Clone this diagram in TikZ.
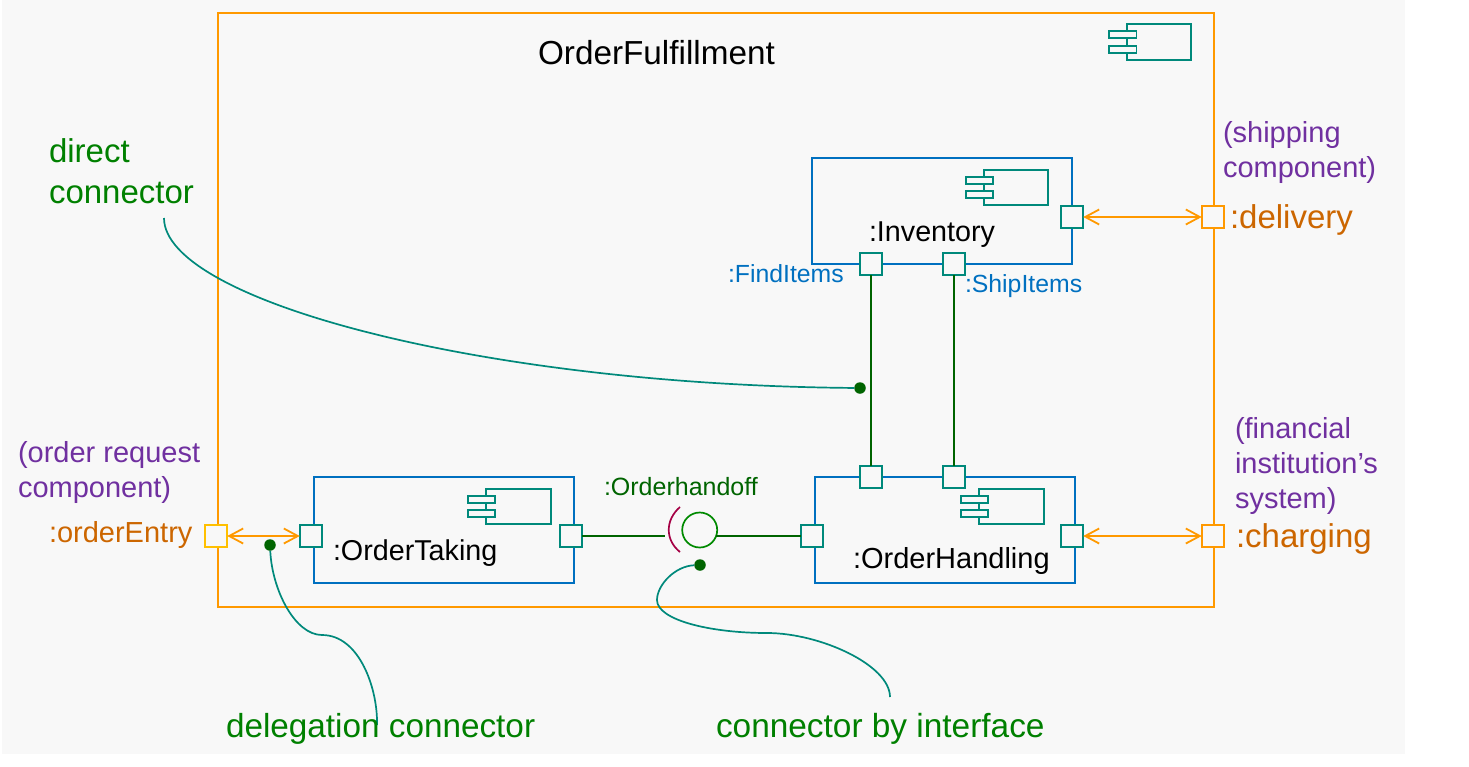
\documentclass[tikz,border=0pt]{standalone}
\usepackage{fontspec}
\setmainfont{Liberation Sans}
\usetikzlibrary{arrows.meta}
\definecolor{cbg}{HTML}{F8F8F8}
\definecolor{cframe}{HTML}{FF9900}
\definecolor{cbox}{HTML}{0070C0}
\definecolor{cteal}{HTML}{00897B}
\definecolor{cgreen}{HTML}{008000}
\definecolor{cdark}{HTML}{006400}
\definecolor{cpurple}{HTML}{7030A0}
\definecolor{cochre}{HTML}{CC6600}
\definecolor{csocket}{HTML}{A50044}
\definecolor{cball}{HTML}{008A00}
\definecolor{centry}{HTML}{FFC000}
\tikzset{
	port/.style={draw=cteal,fill=cbg,line width=2pt,minimum size=22.5pt,inner sep=0pt,outer sep=0pt,shape=rectangle},
	outport/.style={port,draw=cframe},
	part/.style={draw=cbox,line width=2pt},
	icon/.style={draw=cteal,line width=1.8pt},
	wire/.style={draw=cdark,line width=2pt},
	biarrow/.style={draw=cframe,line width=1.8pt,{Straight Barb[length=14pt,width=15pt]}-{Straight Barb[length=14pt,width=15pt]}},
	callout/.style={draw=cteal,line width=1.7pt},
	dot/.style={shape=circle,fill=cdark,minimum size=11.5pt,inner sep=0pt,outer sep=0pt},
	txt/.style={anchor=base west,inner sep=0pt,outer sep=0pt,align=left},
}
\begin{document}
\begin{tikzpicture}[x=1pt,y=-1pt]
	\useasboundingbox (0,0) rectangle (1469,766);
	\fill[cbg] (2,0) rectangle (1405,754);
	%
	\draw[cframe,line width=2pt] (218,13) rectangle (1214,607);
	\draw[part] (812,158) rectangle (1072,264);
	\draw[part] (314,477) rectangle (574,583);
	\draw[part] (815,477) rectangle (1075,583);
	%
	\draw[icon] (1127,24) rectangle (1191,60);
	\draw[icon,fill=cbg] (1109,31) rectangle (1136.5,38);
	\draw[icon,fill=cbg] (1109,46) rectangle (1136.5,53);
	\draw[icon] (984,170) rectangle (1048,205);
	\draw[icon,fill=cbg] (966,177) rectangle (993,184);
	\draw[icon,fill=cbg] (966,191) rectangle (993,198);
	\draw[icon] (486,489) rectangle (551,524);
	\draw[icon,fill=cbg] (468,496) rectangle (495,503);
	\draw[icon,fill=cbg] (468,510) rectangle (495,517);
	\draw[icon] (979,489) rectangle (1044,524);
	\draw[icon,fill=cbg] (961,496) rectangle (988,503);
	\draw[icon,fill=cbg] (961,510) rectangle (988,517);
	%
	\node[port] (invRight) at (1072,217) {};
	\node[port] (invFind) at (871,264) {};
	\node[port] (invShip) at (954,264) {};
	\node[port] (takeLeft) at (311,536) {};
	\node[port] (takeRight) at (571,536) {};
	\node[port] (handleLeft) at (812,536) {};
	\node[port] (handleFind) at (871,477) {};
	\node[port] (handleShip) at (954,477) {};
	\node[port] (handleRight) at (1072,536) {};
	\node[outport] (delivery) at (1213,217) {};
	\node[outport] (charging) at (1213,536) {};
	\node[outport,draw=centry] (orderEntry) at (216,536) {};
	%
	\node[shape=circle,draw=cball,line width=1.7pt,minimum size=35pt,inner sep=0pt,outer sep=0pt] (ball) at (699.7,530) {};
	\coordinate (socketEnd) at (665,536);
	\draw[csocket,line width=1.7pt] (680,507) .. controls (665,520) and (665,540) .. (680,552);
	%
	\draw[wire] (takeRight) -- (socketEnd);
	\draw[wire] (ball.-19) -- (handleLeft.west |- ball.-19);
	\draw[wire] (invFind) -- (handleFind);
	\draw[wire] (invShip) -- (handleShip);
	\draw[biarrow] (orderEntry) -- (takeLeft);
	\draw[biarrow] (invRight) -- (delivery);
	\draw[biarrow] (handleRight) -- (charging);
	%
	\node[dot] (dotDirect) at (860,388) {};
	\node[dot] (dotDelegate) at (270,545) {};
	\node[dot] (dotIface) at (700,565) {};
	\coordinate (startDirect) at (164,218);
	\coordinate (startDelegate) at (377,725);
	\coordinate (startIface) at (890,697);
	\draw[callout] (startDirect) .. controls (164,300) and (480,385) .. (dotDirect);
	\draw[callout] (dotDelegate) .. controls (272,590) and (295,635) .. (322,635) .. controls (360,635) and (378,690) .. (startDelegate);
	\draw[callout] (dotIface) .. controls (675,566) and (657,585) .. (657,600) .. controls (657,620) and (710,633) .. (767,633) .. controls (820,633) and (890,665) .. (startIface);
	%
	\node[txt,font=\fontsize{33.3}{40}\selectfont] (lblFulfil) at (538,64) {OrderFulfillment};
	\node[txt,font=\fontsize{28.7}{34}\selectfont] (lblInv) at (869,241) {:Inventory};
	\node[txt,font=\fontsize{28.7}{34}\selectfont] (lblTake) at (333,560) {:OrderTaking};
	\node[txt,font=\fontsize{29}{34}\selectfont] (lblHandle) at (853,568) {:OrderHandling};
	\node[txt,text=cbox,font=\fontsize{24.8}{30}\selectfont] (lblFind) at (728,282) {:FindItems};
	\node[txt,text=cbox,font=\fontsize{24.8}{30}\selectfont] (lblShip) at (965,292) {:ShipItems};
	\node[txt,text=cdark,font=\fontsize{25}{30}\selectfont] (lblHandoff) at (604,495) {:Orderhandoff};
	\node[txt,text=cochre,font=\fontsize{33}{38}\selectfont] (lblDelivery) at (1230,228) {:delivery};
	\node[txt,text=cochre,font=\fontsize{33}{38}\selectfont] (lblCharging) at (1236,547) {:charging};
	\node[txt,text=cochre,font=\fontsize{29}{34}\selectfont] (lblEntry) at (49,542) {:orderEntry};
	\node[txt,text=cpurple,font=\fontsize{29}{35}\selectfont] (lblShipping) at (1223,177) {(shipping\\component)};
	\node[txt,text=cpurple,font=\fontsize{29}{35}\selectfont] (lblFinancial) at (1235,508) {(financial\\institution’s\\system)};
	\node[txt,text=cpurple,font=\fontsize{29}{35}\selectfont] (lblRequest) at (18,497) {(order request\\component)};
	\node[txt,text=cgreen,font=\fontsize{33}{41}\selectfont] (lblDirect) at (49,203) {direct\\connector};
	\node[txt,text=cgreen,font=\fontsize{33.3}{38}\selectfont] (lblDelegate) at (226,737) {delegation connector};
	\node[txt,text=cgreen,font=\fontsize{33.4}{38}\selectfont] (lblIface) at (716,737) {connector by interface};
	%
\end{tikzpicture}
\end{document}
